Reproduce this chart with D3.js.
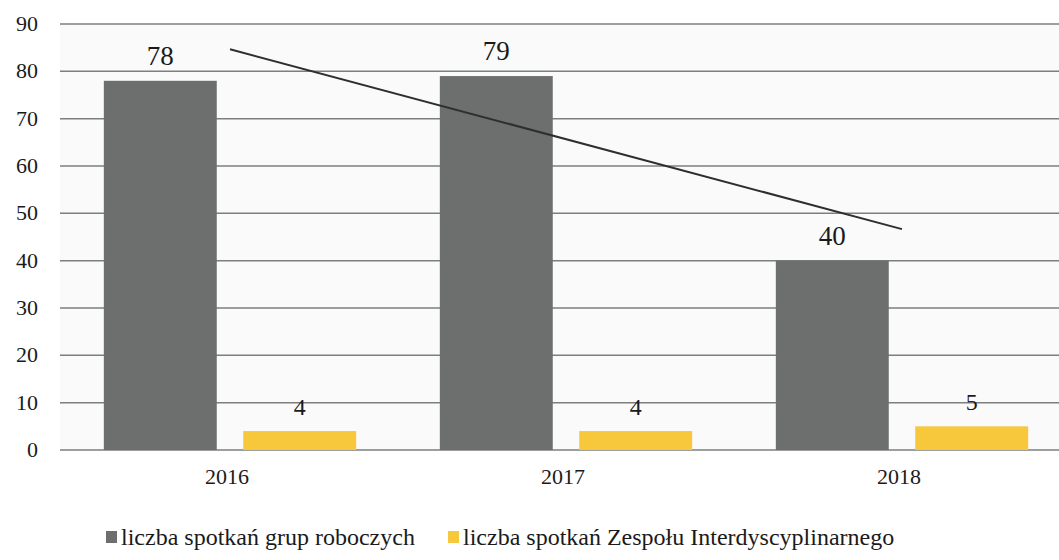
<!DOCTYPE html>
<html>
<head>
<meta charset="utf-8">
<script src="https://cdn.jsdelivr.net/npm/d3@7"></script>
<style>
  svg text { font-family: "Liberation Serif", "Times New Roman", serif !important; }
</style>
</head>
<body style="margin:0">
<svg id="chart" width="1059" height="560" font-family="Liberation Serif, serif"></svg>
<script>
// Meetings per year
const years = ["2016", "2017", "2018"];
const seriesNames = ["liczba spotkań grup roboczych", "liczba spotkań Zespołu Interdyscyplinarnego"];
const workingGroups = [78, 79, 40];
const interdisciplinaryTeam = [4, 4, 5];
const yTicks = [0, 10, 20, 30, 40, 50, 60, 70, 80, 90];
const colors = ["#6c6f6d", "#f7c73c"];

const svg = d3.select("#chart");
const plot = { left: 60, right: 1059, top: 24, bottom: 450 };

const x = d3.scaleBand().domain(years).range([62, 1070]).padding(0);
const inner = d3.scaleBand().domain([0, 1]).range([0, x.bandwidth()])
  .paddingInner(0.19).paddingOuter(0.3);
const y = d3.scaleLinear().domain([0, 90]).range([plot.bottom, plot.top]);

function label(sel) {
  return sel.style("font-family", d => `"Liberation Serif"`).attr("fill", "#1a1a1a");
}

// plot background
svg.append("rect")
  .attr("x", plot.left).attr("y", plot.top)
  .attr("width", plot.right - plot.left).attr("height", plot.bottom - plot.top)
  .attr("fill", "#f9faf9");

// gridlines
svg.append("g").selectAll("line").data(yTicks).join("line")
  .attr("x1", plot.left).attr("x2", plot.right)
  .attr("y1", d => y(d)).attr("y2", d => y(d))
  .attr("stroke", "#7d7f7e").attr("stroke-width", 1.5);

// y tick labels
svg.append("g").selectAll("text").data(yTicks).join("text")
  .attr("x", 38).attr("y", d => y(d) + 7)
  .attr("text-anchor", "end")
  .attr("font-size", 22)
  .call(label)
  .text(d => d);

// bars with value labels
const series = [workingGroups, interdisciplinaryTeam];
series.forEach((vals, si) => {
  const g = svg.append("g");
  g.selectAll("rect").data(vals).join("rect")
    .attr("x", (d, i) => x(years[i]) + inner(si))
    .attr("width", inner.bandwidth())
    .attr("y", d => y(d))
    .attr("height", d => y(0) - y(d))
    .attr("fill", colors[si]);
  g.selectAll("text").data(vals).join("text")
    .attr("x", (d, i) => x(years[i]) + inner(si) + inner.bandwidth() / 2)
    .attr("y", d => y(d) - 16)
    .attr("text-anchor", "middle")
    .attr("font-size", si === 0 ? 27 : 24)
    .call(label)
    .text(d => d);
});

// linear trend of the working-group series
const n = workingGroups.length;
const xs = d3.range(n);
const mx = d3.mean(xs), my = d3.mean(workingGroups);
const slope = d3.sum(xs, i => (i - mx) * (workingGroups[i] - my)) / d3.sum(xs, i => (i - mx) ** 2);
const intercept = my - slope * mx;
svg.append("line")
  .attr("x1", x(years[0]) + x.bandwidth() / 2)
  .attr("x2", x(years[n - 1]) + x.bandwidth() / 2)
  .attr("y1", y(intercept))
  .attr("y2", y(intercept + slope * (n - 1)))
  .attr("stroke", "#2e2e2e").attr("stroke-width", 2);

// x labels
svg.append("g").selectAll("text").data(years).join("text")
  .attr("x", d => x(d) + x.bandwidth() / 2 - 3)
  .attr("y", 484)
  .attr("text-anchor", "middle")
  .attr("font-size", 22)
  .call(label)
  .text(d => d);

// legend
const legendX = [106, 448];
const lg = svg.append("g");
seriesNames.forEach((name, i) => {
  lg.append("rect")
    .attr("x", legendX[i]).attr("y", 531)
    .attr("width", 11).attr("height", 12)
    .attr("fill", colors[i]);
  lg.append("text").datum(name)
    .attr("x", legendX[i] + 15).attr("y", 545)
    .attr("font-size", 24)
    .call(label)
    .text(name);
});
</script>
</body>
</html>
